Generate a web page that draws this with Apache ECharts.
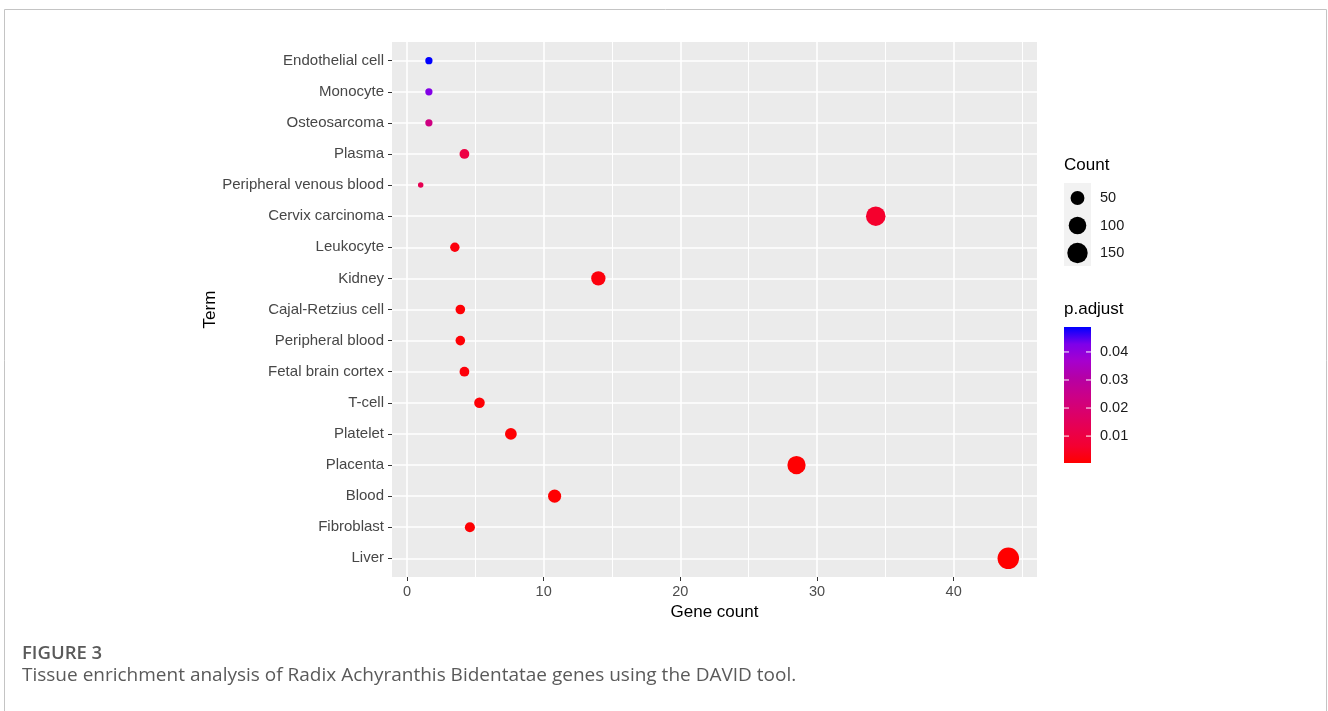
<!DOCTYPE html>
<html>
<head>
<meta charset="utf-8">
<title>Tissue enrichment</title>
<script src="https://cdn.jsdelivr.net/npm/echarts@6/dist/echarts.min.js"></script>
<style>
  html, body { margin: 0; padding: 0; background: #ffffff; }
  #chart { width: 1328px; height: 711px; }
</style>
</head>
<body>
<div id="chart"></div>
<script>
// Enriched tissue terms, top row first
const terms = [
  'Endothelial cell', 'Monocyte', 'Osteosarcoma', 'Plasma', 'Peripheral venous blood',
  'Cervix carcinoma', 'Leukocyte', 'Kidney', 'Cajal-Retzius cell', 'Peripheral blood',
  'Fetal brain cortex', 'T-cell', 'Platelet', 'Placenta', 'Blood', 'Fibroblast', 'Liver'
];
// Gene count (x position)
const geneCount = [1.6, 1.6, 1.6, 4.2, 1.0, 34.3, 3.5, 14.0, 3.9, 3.9, 4.2, 5.3, 7.6, 28.5, 10.8, 4.6, 44.0];
// Number of genes per term (dot size)
const counts = [6, 6, 6, 16, 4, 134, 14, 55, 15, 15, 16, 21, 30, 111, 42, 18, 172];
// Adjusted p-value per term (dot colour)
const pAdjust = [0.0489, 0.042, 0.023, 0.010, 0.013, 0.006, 0.002, 0.002, 0.001, 0.001,
                 0.0015, 0.001, 0.0008, 0.0006, 0.0005, 0.0008, 0.0004];

const xTicks = [0, 10, 20, 30, 40];
const xMinor = [5, 15, 25, 35, 45];
const sizeBreaks = [50, 100, 150];
const pTicks = [0.01, 0.02, 0.03, 0.04];

// red -> blue ramp, interpolated in Lab space
const ramp = ['#FF0000', '#F40031', '#E8004F', '#DA006C', '#CA0089', '#B500A5', '#A600CE', '#7D00EA', '#0000FF'];

const cMin = Math.min(...counts), cMax = Math.max(...counts);
const pMin = Math.min(...pAdjust), pMax = Math.max(...pAdjust);
function dotSize(c) {
  return 5.5 + 16 * Math.sqrt(Math.max(0, c - cMin) / (cMax - cMin));
}

const FONT = '"Liberation Sans", Arial, sans-serif';
const panel = { left: 392, top: 42, width: 645, height: 535 };

const chart = echarts.init(document.getElementById('chart'), null, { renderer: 'canvas' });

const points = terms.map((t, i) => [geneCount[i], i, counts[i], pAdjust[i], t]);
const yIdx = terms.map((_, i) => i);

// size legend
const sizeLegend = [];
const keyTop = 183, keyStep = 27.5;
sizeLegend.push({ type: 'text', left: 1064, top: 157, style: { text: 'Count', font: '17px ' + FONT, fill: '#000' } });
sizeLegend.push({ type: 'rect', shape: { x: 1064, y: keyTop, width: 27, height: 83 }, style: { fill: '#F2F2F2' } });
sizeBreaks.forEach((b, k) => {
  const cy = keyTop + 15 + k * keyStep;
  sizeLegend.push({ type: 'circle', shape: { cx: 1077.5, cy: cy, r: dotSize(b) / 2 }, style: { fill: '#000' } });
  sizeLegend.push({ type: 'text', x: 1100, y: cy, style: { text: String(b), font: '14.5px ' + FONT, fill: '#1a1a1a', verticalAlign: 'middle' } });
});

// colour bar legend
const barX = 1064, barY = 327, barW = 27, barH = 136;
const colorLegend = [];
colorLegend.push({ type: 'text', left: 1064, top: 301, style: { text: 'p.adjust', font: '17px ' + FONT, fill: '#000' } });
colorLegend.push({
  type: 'rect', shape: { x: barX, y: barY, width: barW, height: barH },
  style: {
    fill: new echarts.graphic.LinearGradient(0, 1, 0, 0,
      ramp.map((c, k) => ({ offset: k / (ramp.length - 1), color: c })))
  }
});
pTicks.forEach(p => {
  const y = barY + barH - (p - pMin) / (pMax - pMin) * barH;
  colorLegend.push({ type: 'line', shape: { x1: barX, y1: y, x2: barX + 5, y2: y }, style: { stroke: '#fff', lineWidth: 1 } });
  colorLegend.push({ type: 'line', shape: { x1: barX + barW - 5, y1: y, x2: barX + barW, y2: y }, style: { stroke: '#fff', lineWidth: 1 } });
  colorLegend.push({ type: 'text', x: 1100, y: y, style: { text: p.toFixed(2), font: '14.5px ' + FONT, fill: '#1a1a1a', verticalAlign: 'middle' } });
});

const option = {
  backgroundColor: '#ffffff',
  animation: false,
  grid: {
    left: panel.left, top: panel.top, width: panel.width, height: panel.height,
    show: true, backgroundColor: '#EBEBEB', borderWidth: 0
  },
  xAxis: {
    type: 'value', min: -1.1, max: 46.1,
    name: 'Gene count', nameLocation: 'middle', nameGap: 26,
    nameTextStyle: { fontFamily: FONT, fontSize: 17, color: '#000' },
    axisLine: { show: false, onZero: false },
    axisTick: { show: true, customValues: xTicks, length: 4, lineStyle: { color: '#333', width: 1 } },
    axisLabel: { customValues: xTicks, margin: 7, fontFamily: FONT, fontSize: 14.5, color: '#4D4D4D' },
    splitLine: { show: false }
  },
  yAxis: {
    type: 'value', min: -0.6, max: terms.length - 0.4, inverse: true,
    name: 'Term', nameLocation: 'middle', nameGap: 172, nameRotate: 90,
    nameTextStyle: { fontFamily: FONT, fontSize: 17, color: '#000' },
    axisLine: { show: false, onZero: false },
    axisTick: { show: true, customValues: yIdx, length: 4, lineStyle: { color: '#333', width: 1 } },
    axisLabel: {
      customValues: yIdx, margin: 8, fontFamily: FONT, fontSize: 15, color: '#474747',
      formatter: v => terms[Math.round(v)]
    },
    splitLine: { show: false }
  },
  visualMap: {
    show: false, type: 'continuous', dimension: 3, seriesIndex: 1,
    min: pMin, max: pMax, inRange: { color: ramp }
  },
  series: [
    {
      // panel grid lines
      type: 'line', data: [], z: 1, silent: true,
      markLine: {
        z: 1, silent: true, symbol: ['none', 'none'], label: { show: false }, animation: false,
        data: [
          ...xMinor.map(v => ({ xAxis: v, lineStyle: { color: '#fff', width: 1, type: 'solid' } })),
          ...xTicks.map(v => ({ xAxis: v, lineStyle: { color: '#fff', width: 1.6, type: 'solid' } })),
          ...yIdx.map(v => ({ yAxis: v, lineStyle: { color: '#fff', width: 1.6, type: 'solid' } }))
        ]
      }
    },
    {
      type: 'scatter', z: 10,
      data: points,
      symbol: 'circle',
      symbolSize: v => dotSize(v[2]),
      itemStyle: { opacity: 1 }
    }
  ],
  graphic: [
    // figure frame
    { type: 'polyline', shape: { points: [[4.5, 760], [4.5, 9.5], [1326.5, 9.5], [1326.5, 760]] },
      style: { stroke: '#C4C4C4', lineWidth: 1, fill: null }, silent: true },
    ...sizeLegend,
    ...colorLegend,
    { type: 'text', left: 22, top: 644, style: { text: 'FIGURE 3', font: '600 18.5px "Open Sans", sans-serif', fill: '#5a5a5a' } },
    { type: 'text', left: 22, top: 666, style: { text: 'Tissue enrichment analysis of Radix Achyranthis Bidentatae genes using the DAVID tool.', font: '19px "Open Sans", sans-serif', fill: '#5a5a5a' } }
  ]
};

chart.setOption(option);
</script>
</body>
</html>
